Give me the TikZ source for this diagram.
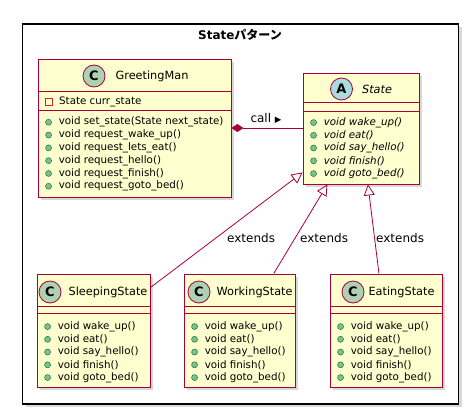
\documentclass[tikz,border=0pt]{standalone}
\usepackage{fontspec}
\setmainfont{DejaVu Sans}
\newfontfamily\cjk{Noto Sans CJK JP}
\usetikzlibrary{arrows.meta,positioning,calc,shadows}

\definecolor{umlfill}{HTML}{FEFECE}
\definecolor{umlborder}{HTML}{A80036}
\definecolor{cicon}{HTML}{ADD1B2}
\definecolor{aicon}{HTML}{A9DCDF}
\definecolor{pubfill}{HTML}{84BE84}
\definecolor{pubdraw}{HTML}{038048}
\definecolor{privdraw}{HTML}{C82930}

\begin{document}
\begin{tikzpicture}[x=1pt, y=-1pt, every node/.style={font=\fontsize{10.3}{12}\selectfont, inner sep=0pt},
    umlshadow/.style={drop shadow={opacity=0.3, shadow xshift=3pt, shadow yshift=-3pt}},
    frame/.style={draw=black, fill=white, line width=1.2pt, umlshadow},
    classbox/.style={draw=umlborder, fill=umlfill, line width=0.9pt, umlshadow},
    divider/.style={draw=umlborder, line width=0.9pt},
    icon/.style={circle, draw=umlborder, line width=0.8pt, minimum size=22pt, font=\bfseries\fontsize{13}{14}\selectfont},
    header/.style={font=\fontsize{11.3}{13}\selectfont},
    relabel/.style={font=\fontsize{12}{14}\selectfont},
    pubdot/.style={circle, draw=pubdraw, fill=pubfill, line width=0.5pt, minimum size=6pt},
    privsq/.style={rectangle, draw=privdraw, line width=0.8pt, minimum size=7pt},
    member/.style={anchor=west},
    composition/.style={draw=umlborder, line width=0.8pt, {Diamond[length=12pt, width=8pt, fill=umlborder]}-},
    extends/.style={draw=umlborder, line width=0.8pt, -{Triangle[open, length=11pt, width=11pt, fill=white]}}
  ]
    \useasboundingbox (0,0) rectangle (468,414);

    % Rahmen
    \draw[frame] (22.5,24) rectangle (458.5,404);
    \node[font=\bfseries\fontsize{12}{14}\selectfont] (title) at (240,35) {State{\cjk パターン}};

    % Klassen
    \node[classbox, minimum width=193pt, minimum height=138pt] (greeting) at (134.5,128) {};
    \node[classbox, minimum width=116pt, minimum height=111pt] (state) at (361,128.5) {};
    \node[classbox, minimum width=113pt, minimum height=113pt] (sleeping) at (93.5,330.5) {};
    \node[classbox, minimum width=111pt, minimum height=113pt] (working) at (239.5,330.5) {};
    \node[classbox, minimum width=112pt, minimum height=113pt] (eating) at (386,330.5) {};

    % Trennlinien
    \draw[divider] ($(greeting.north west)+(0,33)$) -- ($(greeting.north east)+(0,33)$);
    \draw[divider] ($(greeting.north west)+(0,52)$) -- ($(greeting.north east)+(0,52)$);
    \draw[divider] ($(state.north west)+(0,30)$) -- ($(state.north east)+(0,30)$);
    \draw[divider] ($(state.north west)+(0,39)$) -- ($(state.north east)+(0,39)$);
    \foreach \cls in {sleeping,working,eating} {
      \draw[divider] ($(\cls.north west)+(0,33)$) -- ($(\cls.north east)+(0,33)$);
      \draw[divider] ($(\cls.north west)+(0,40)$) -- ($(\cls.north east)+(0,40)$);
    }

    % Kopfzeilen
    \node[icon, fill=cicon] (greeting-icon) at (94,76) {C};
    \node[header, right=10pt of greeting-icon] (greeting-name) {GreetingMan};
    \node[icon, fill=aicon] (state-icon) at (341.5,89) {A};
    \node[header, right=9pt of state-icon] (state-name) {\itshape State};
    \node[icon, fill=cicon] (sleeping-icon) at (50,292) {C};
    \node[header, right=7pt of sleeping-icon] (sleeping-name) {SleepingState};
    \node[icon, fill=cicon] (working-icon) at (199,292) {C};
    \node[header, right=6pt of working-icon] (working-name) {WorkingState};
    \node[icon, fill=cicon] (eating-icon) at (353,292) {C};
    \node[header, right=4pt of eating-icon] (eating-name) {EatingState};

    % Attribute und Methoden
    \node[privsq] (greeting-a1) at (49,102) {};
    \node[member] (greeting-a1-text) at (59,102) {State curr\_state};
    \foreach \m [count=\i] in {void set\_state(State next\_state), void request\_wake\_up(),
        void request\_lets\_eat(), void request\_hello(), void request\_finish(), void request\_goto\_bed()} {
      \node[pubdot] (greeting-d\i) at ($(greeting.north west)+(11,50.9+12.8*\i)$) {};
      \node[member] (greeting-m\i) at ($(greeting.north west)+(21,50.9+12.8*\i)$) {\m};
    }
    \foreach \m [count=\i] in {void wake\_up(), void eat(), void say\_hello(), void finish(), void goto\_bed()} {
      \node[pubdot] (state-d\i) at ($(state.north west)+(11,37.25+12.75*\i)$) {};
      \node[member] (state-m\i) at ($(state.north west)+(21,37.25+12.75*\i)$) {\itshape\m};
      \foreach \cls in {sleeping,working,eating} {
        \node[pubdot] (\cls-d\i) at ($(\cls.north west)+(11,40.25+12.75*\i)$) {};
        \node[member] (\cls-m\i) at ($(\cls.north west)+(21,40.25+12.75*\i)$) {\m};
      }
    }

    % Beziehungen
    \draw[composition] (greeting.east) -- (greeting.east -| state.west);
    \node[relabel] (call) at (266,118) {call {\fontsize{8.5}{9}\selectfont ▶}};
    \draw[extends] (sleeping) -- (state);
    \draw[extends] (working) -- (state);
    \draw[extends] (eating) -- (state);
    \node[member, relabel] (ext1) at (227,238) {extends};
    \node[member, relabel] (ext2) at (300,238) {extends};
    \node[member, relabel] (ext3) at (376,238) {extends};
  \end{tikzpicture}
\end{document}
